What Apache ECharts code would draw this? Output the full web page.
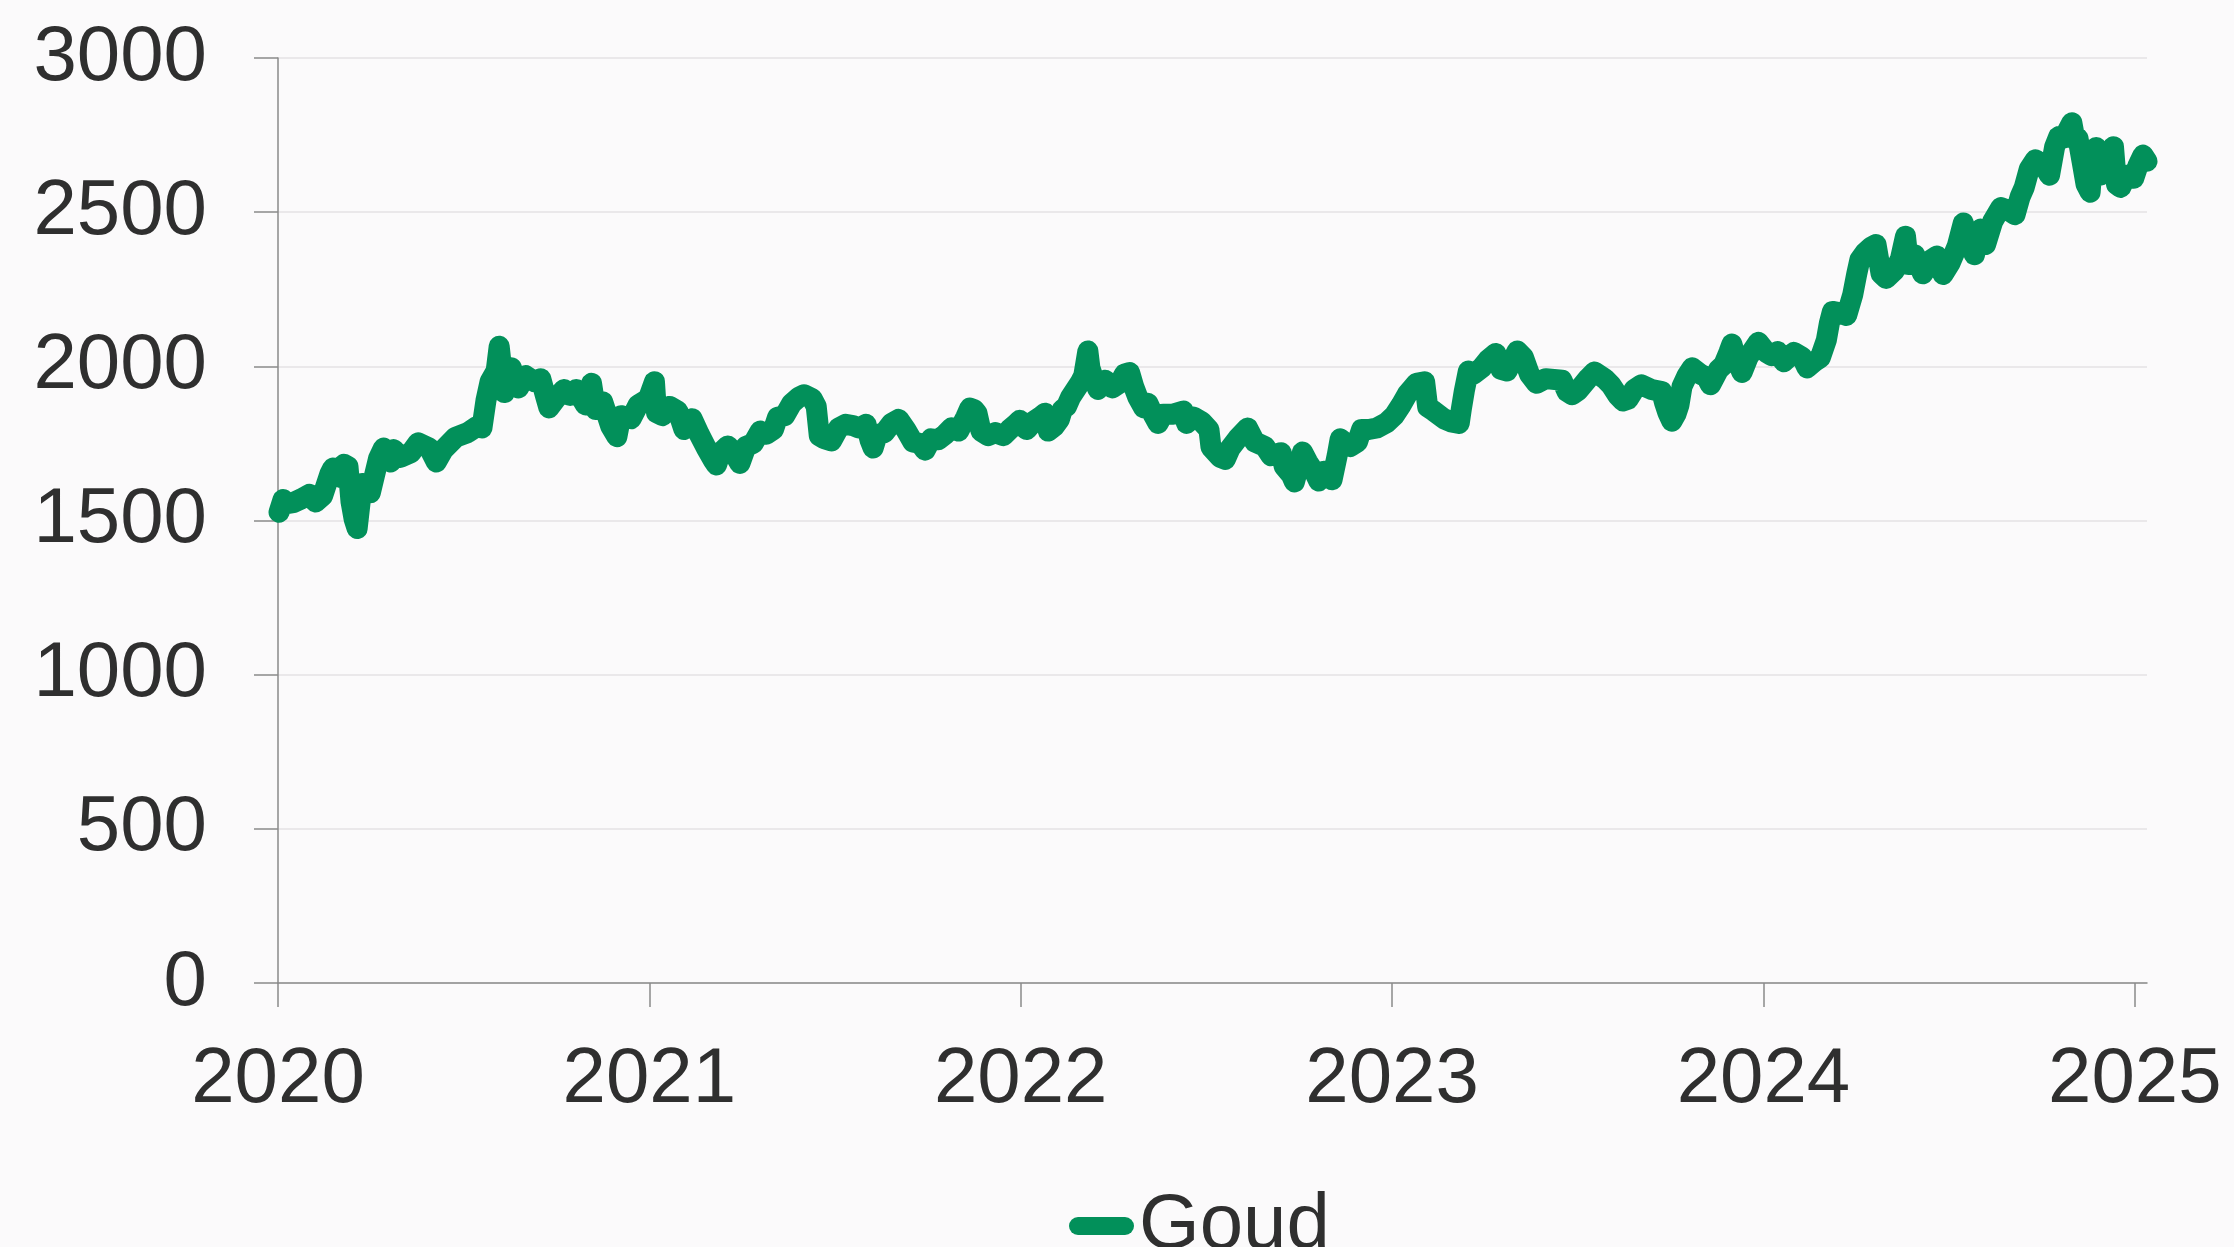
<!DOCTYPE html>
<html>
<head>
<meta charset="utf-8">
<script src="https://cdn.jsdelivr.net/npm/echarts@6/dist/echarts.min.js"></script>
<style>
html,body{margin:0;padding:0;background:#fbfafb;}
#chart{width:2234px;height:1247px;}
</style>
</head>
<body>
<div id="chart"></div>
<script>
// ---- data ----
const seriesName = 'Goud';
const yearTicks = [2020, 2021, 2022, 2023, 2024, 2025];
const yTicks = [0, 500, 1000, 1500, 2000, 2500, 3000];

const dates2020 = ['2020-01-02','2020-01-06','2020-01-10','2020-01-16','2020-01-24','2020-02-01','2020-02-07','2020-02-14','2020-02-21','2020-02-24','2020-03-02','2020-03-06','2020-03-10','2020-03-13','2020-03-16','2020-03-19','2020-03-24','2020-04-01','2020-04-09','2020-04-14','2020-04-21','2020-04-24','2020-05-01','2020-05-11','2020-05-18','2020-05-29','2020-06-05','2020-06-12','2020-06-24','2020-07-06','2020-07-15','2020-07-20','2020-07-24','2020-07-28','2020-08-03','2020-08-06','2020-08-11','2020-08-14','2020-08-18','2020-08-25','2020-09-01','2020-09-10','2020-09-16','2020-09-21','2020-09-24','2020-10-02','2020-10-09','2020-10-15','2020-10-21','2020-10-30','2020-11-05','2020-11-09','2020-11-16','2020-11-24','2020-11-30','2020-12-04','2020-12-14','2020-12-21','2020-12-31'];
const values2020 = [1527,1568,1555,1558,1570,1585,1560,1580,1650,1670,1640,1682,1675,1560,1505,1474,1620,1590,1700,1735,1690,1730,1705,1720,1752,1735,1690,1730,1770,1785,1805,1800,1890,1950,1985,2065,1915,1950,1995,1930,1970,1950,1960,1900,1865,1900,1925,1905,1925,1875,1945,1860,1885,1805,1772,1840,1830,1875,1895];

const dates2021 = ['2021-01-06','2021-01-08','2021-01-14','2021-01-21','2021-01-29','2021-02-04','2021-02-12','2021-02-19','2021-02-26','2021-03-05','2021-03-08','2021-03-12','2021-03-19','2021-03-24','2021-03-31','2021-04-06','2021-04-13','2021-04-20','2021-04-26','2021-05-03','2021-05-07','2021-05-14','2021-05-21','2021-05-28','2021-06-02','2021-06-10','2021-06-14','2021-06-17','2021-06-22','2021-06-29','2021-07-06','2021-07-13','2021-07-20','2021-07-26','2021-08-02','2021-08-06','2021-08-09','2021-08-13','2021-08-20','2021-08-27','2021-09-03','2021-09-10','2021-09-17','2021-09-24','2021-09-29','2021-10-05','2021-10-12','2021-10-19','2021-10-25','2021-11-01','2021-11-08','2021-11-12','2021-11-16','2021-11-19','2021-11-23','2021-11-30','2021-12-07','2021-12-15','2021-12-21','2021-12-28','2021-12-31'];
const values2021 = [1950,1850,1840,1870,1855,1795,1830,1780,1735,1695,1680,1720,1742,1725,1685,1740,1750,1790,1780,1795,1835,1840,1880,1900,1908,1895,1870,1775,1765,1758,1800,1812,1808,1800,1812,1760,1735,1778,1785,1815,1828,1795,1755,1750,1728,1765,1762,1780,1800,1790,1835,1865,1860,1848,1790,1775,1785,1775,1795,1815,1825];

const dates2022 = ['2022-01-03','2022-01-07','2022-01-14','2022-01-21','2022-01-25','2022-01-28','2022-02-03','2022-02-08','2022-02-11','2022-02-15','2022-02-19','2022-02-24','2022-03-01','2022-03-04','2022-03-08','2022-03-10','2022-03-14','2022-03-18','2022-03-25','2022-04-01','2022-04-08','2022-04-13','2022-04-18','2022-04-22','2022-04-26','2022-05-02','2022-05-06','2022-05-11','2022-05-16','2022-05-21','2022-05-31','2022-06-10','2022-06-13','2022-06-20','2022-06-28','2022-07-05','2022-07-07','2022-07-16','2022-07-21','2022-07-26','2022-08-02','2022-08-12','2022-08-19','2022-08-29','2022-09-04','2022-09-14','2022-09-17','2022-09-24','2022-09-27','2022-10-05','2022-10-10','2022-10-17','2022-10-21','2022-10-26','2022-10-31','2022-11-03','2022-11-08','2022-11-11','2022-11-21','2022-11-28','2022-12-02','2022-12-09','2022-12-17','2022-12-27'];
const values2022 = [1805,1795,1822,1838,1848,1790,1805,1828,1860,1870,1900,1925,1950,1970,2050,1995,1955,1925,1955,1930,1945,1975,1980,1935,1900,1865,1880,1845,1815,1845,1845,1855,1815,1835,1820,1795,1738,1705,1698,1735,1765,1800,1755,1740,1710,1720,1675,1648,1625,1722,1690,1655,1628,1660,1640,1632,1710,1765,1740,1755,1795,1795,1800,1818];

const dates2023 = ['2023-01-03','2023-01-10','2023-01-16','2023-01-25','2023-02-02','2023-02-05','2023-02-11','2023-02-21','2023-02-28','2023-03-08','2023-03-10','2023-03-13','2023-03-17','2023-03-22','2023-03-30','2023-04-05','2023-04-13','2023-04-18','2023-04-24','2023-05-04','2023-05-10','2023-05-16','2023-05-23','2023-06-01','2023-06-17','2023-06-22','2023-06-27','2023-07-03','2023-07-13','2023-07-19','2023-07-29','2023-08-04','2023-08-11','2023-08-16','2023-08-21','2023-08-27','2023-09-03','2023-09-13','2023-09-23','2023-09-26','2023-09-29','2023-10-03','2023-10-07','2023-10-10','2023-10-13','2023-10-18','2023-10-23','2023-10-31','2023-11-06','2023-11-10','2023-11-18','2023-11-23','2023-11-28','2023-12-01','2023-12-05','2023-12-11','2023-12-17','2023-12-27'];
const values2023 = [1840,1875,1910,1945,1950,1868,1855,1830,1820,1815,1860,1920,1985,1975,1995,2020,2042,1990,1985,2050,2030,1975,1945,1960,1955,1918,1908,1922,1962,1982,1960,1940,1905,1888,1893,1925,1940,1925,1918,1880,1850,1822,1845,1875,1935,1970,1995,1975,1965,1940,1990,2005,2045,2072,2025,1980,2030,2078];

const dates2024 = ['2024-01-04','2024-01-09','2024-01-15','2024-01-21','2024-01-31','2024-02-08','2024-02-13','2024-02-20','2024-02-26','2024-03-03','2024-03-06','2024-03-09','2024-03-14','2024-03-23','2024-03-29','2024-04-02','2024-04-05','2024-04-10','2024-04-16','2024-04-21','2024-04-26','2024-05-01','2024-05-09','2024-05-15','2024-05-20','2024-05-23','2024-05-29','2024-06-06','2024-06-14','2024-06-20','2024-06-26','2024-07-03','2024-07-10','2024-07-16','2024-07-23','2024-07-27','2024-08-02','2024-08-07','2024-08-14','2024-08-22','2024-08-30','2024-09-05','2024-09-10','2024-09-14','2024-09-19','2024-09-25','2024-10-03','2024-10-09','2024-10-14','2024-10-18','2024-10-23','2024-10-27','2024-10-31','2024-11-03','2024-11-06','2024-11-10','2024-11-14','2024-11-18','2024-11-21','2024-11-24','2024-11-28','2024-12-03','2024-12-11','2024-12-14','2024-12-18','2024-12-24','2024-12-31','2025-01-04','2025-01-09','2025-01-13'];
const values2024 = [2045,2035,2048,2015,2045,2030,1995,2015,2028,2085,2140,2178,2175,2165,2232,2300,2345,2368,2386,2395,2300,2285,2310,2348,2422,2330,2362,2300,2345,2358,2298,2335,2390,2465,2390,2362,2445,2395,2470,2515,2505,2492,2550,2580,2640,2670,2652,2620,2712,2745,2740,2765,2790,2735,2740,2665,2590,2565,2700,2710,2620,2635,2712,2590,2580,2620,2610,2650,2685,2665];

// ---- build series data: date -> fractional year ----
function toYear(s) {
  const [y, m, d] = s.split('-').map(Number);
  const start = Date.UTC(y, 0, 1), end = Date.UTC(y + 1, 0, 1);
  return y + (Date.UTC(y, m - 1, d) - start) / (end - start);
}
const allDates = [].concat(dates2020, dates2021, dates2022, dates2023, dates2024);
const allValues = [].concat(values2020, values2021, values2022, values2023, values2024);
const lineData = allDates.map((d, i) => [toYear(d), allValues[i]]);

const FONT = '"Liberation Sans", Arial, sans-serif';
const TEXT = '#2f2f2f';
const AXIS = '#8a8a8a';
const GREEN = '#02905a';

const chart = echarts.init(document.getElementById('chart'), null, {renderer: 'canvas'});
chart.setOption({
  backgroundColor: '#fbfafb',
  animation: false,
  textStyle: {fontFamily: FONT},
  grid: {left: 278, right: 87, top: 58, bottom: 264, containLabel: false, outerBoundsMode: 'none'},
  legend: {
    show: true,
    left: 1064,
    top: 1182,
    icon: 'path://M9,0 L56,0 A9,9 0 0 1 56,18 L9,18 A9,9 0 0 1 9,0 Z',
    itemWidth: 65,
    itemHeight: 18,
    textStyle: {fontSize: 78, color: TEXT, fontFamily: FONT},
    data: [seriesName]
  },
  xAxis: {
    type: 'value',
    min: yearTicks[0],
    max: 'dataMax',
    interval: 1,
    splitLine: {show: false},
    axisLine: {show: true, onZero: false, lineStyle: {color: AXIS, width: 1.5}},
    axisTick: {show: true, length: 24, lineStyle: {color: AXIS, width: 1.5}, customValues: yearTicks},
    axisLabel: {
      show: true, fontSize: 78, color: TEXT, fontFamily: FONT, margin: 58,
      customValues: yearTicks,
      formatter: v => String(Math.round(v))
    }
  },
  yAxis: {
    type: 'value',
    min: yTicks[0],
    max: yTicks[yTicks.length - 1],
    interval: 500,
    axisLine: {show: true, lineStyle: {color: AXIS, width: 1.5}},
    axisTick: {show: true, length: 24, lineStyle: {color: AXIS, width: 1.5}},
    splitLine: {show: true, lineStyle: {color: '#e4e2e4', width: 1.5}},
    axisLabel: {show: true, fontSize: 78, color: TEXT, fontFamily: FONT, margin: 71,
      formatter: v => String(v)}
  },
  series: [{
    name: seriesName,
    type: 'line',
    data: lineData,
    showSymbol: false,
    symbol: 'none',
    smooth: false,
    color: GREEN,
    lineStyle: {color: GREEN, width: 21, cap: 'round', join: 'round'}
  }]
});
</script>
</body>
</html>
